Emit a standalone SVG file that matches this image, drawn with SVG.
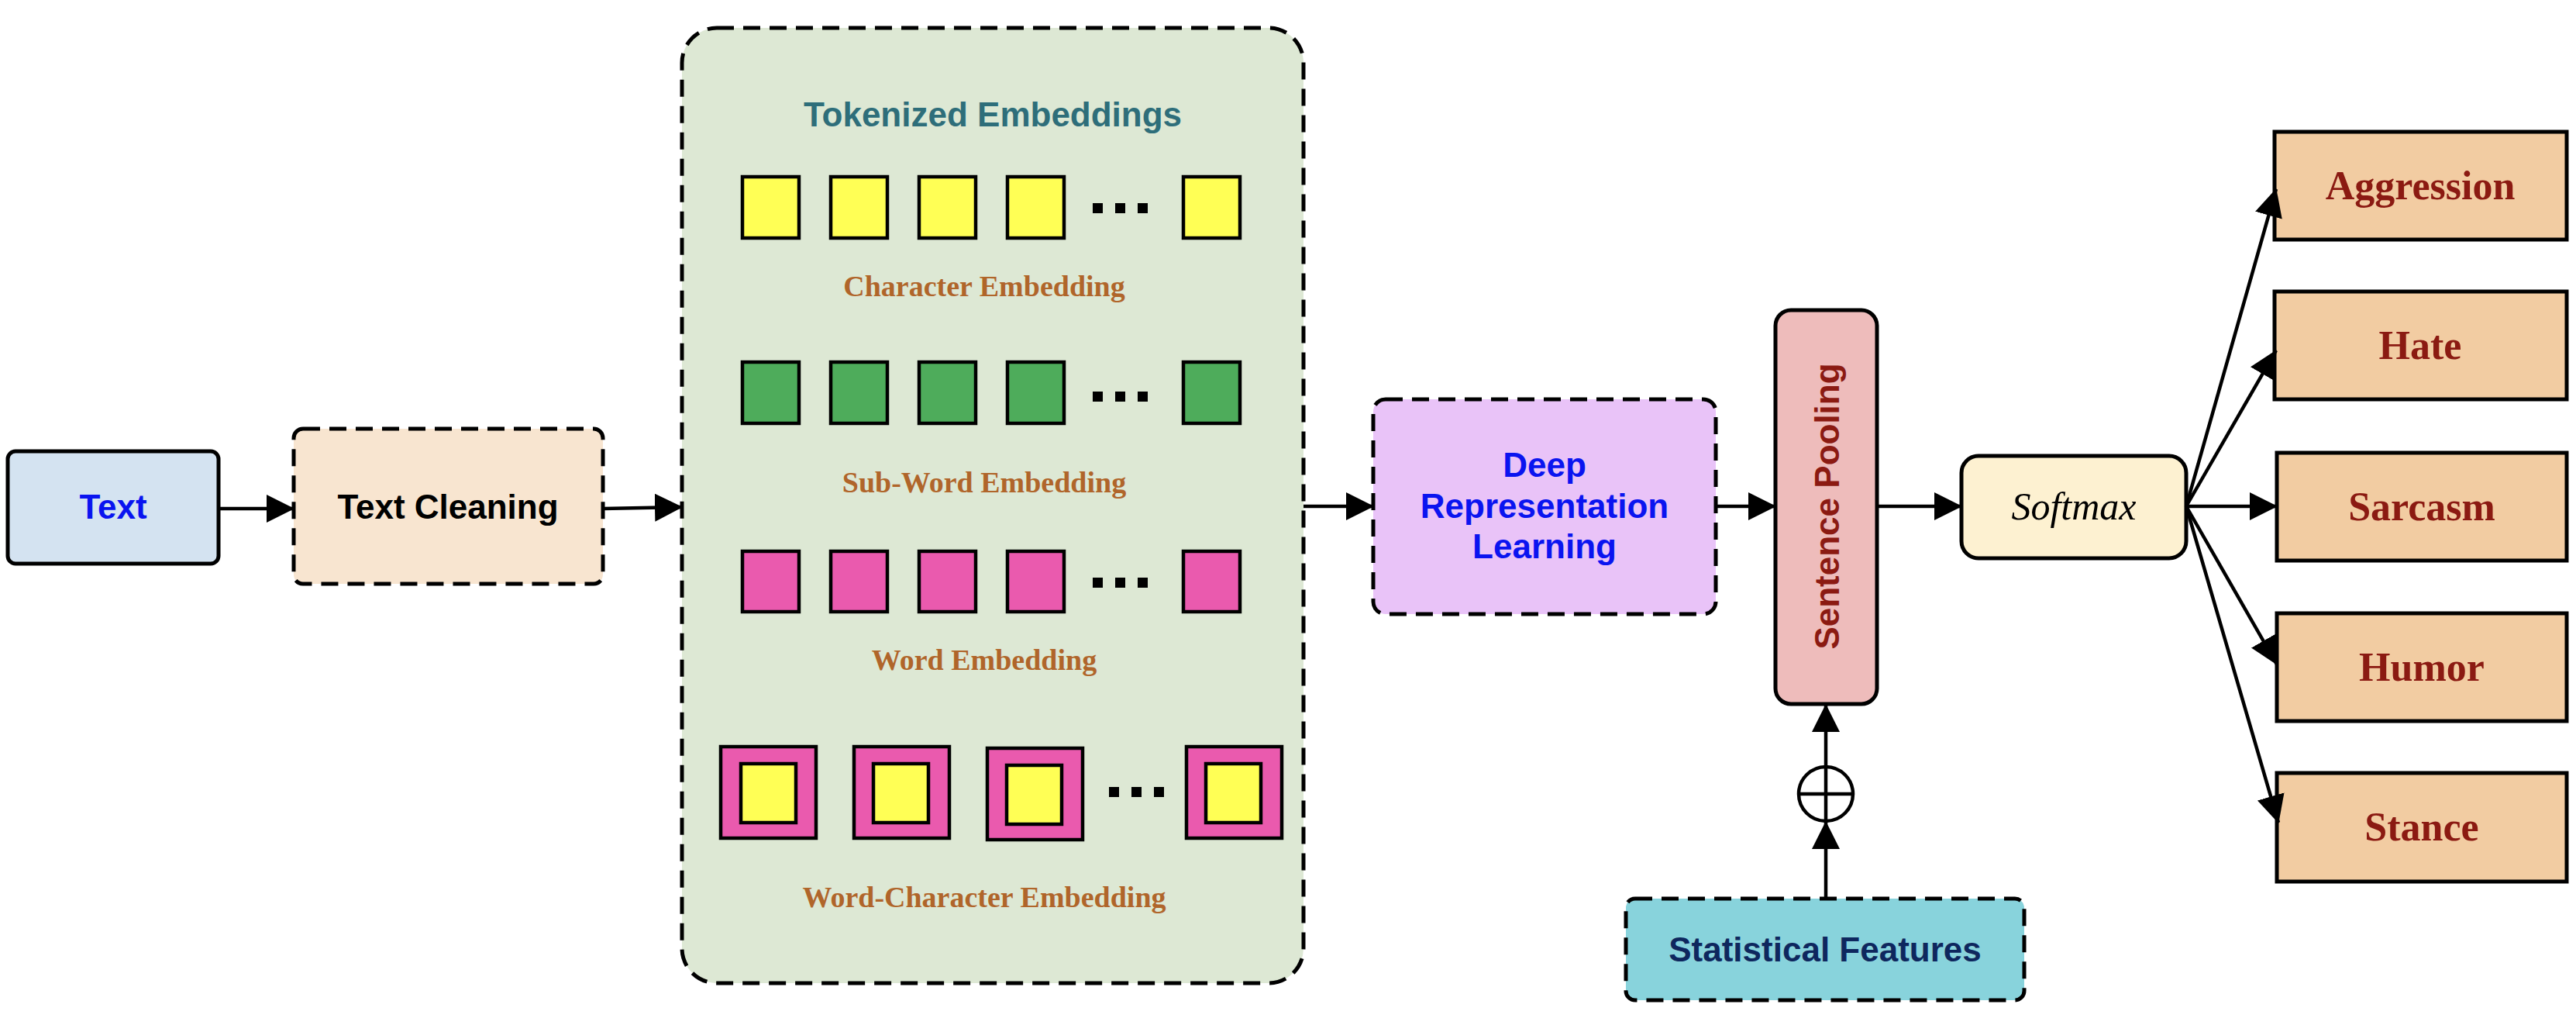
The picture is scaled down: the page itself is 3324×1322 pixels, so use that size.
<svg xmlns="http://www.w3.org/2000/svg" width="3324" height="1322" viewBox="0 0 3324 1322">
<defs>
<marker id="arr" markerUnits="userSpaceOnUse" markerWidth="36" markerHeight="36" refX="35" refY="18" orient="auto">
<path d="M0,0 L36,18 L0,36 Z" fill="#000"/>
</marker>
<style>
.solid{stroke:#000;stroke-width:5}
.dash{stroke:#000;stroke-width:5;stroke-dasharray:22 12}
.sans{font-family:"Liberation Sans",Arial,sans-serif;font-weight:bold;font-size:44px;text-anchor:middle}
.lbl{font-family:"Liberation Serif","Times New Roman",serif;font-weight:bold;font-size:38px;fill:#b0652a;text-anchor:middle}
.out{font-family:"Liberation Serif","Times New Roman",serif;font-weight:bold;font-size:52px;fill:#8b1a12;text-anchor:middle}
.sq{stroke:#000;stroke-width:4.5}
.y{fill:#ffff55}.g{fill:#4eac5b}.p{fill:#ea5aae}
.dot{fill:#000}
.conn{stroke:#000;stroke-width:4.5;fill:none}
.obox{fill:#f2cca2;stroke:#000;stroke-width:5}
</style>
</defs>
<rect width="3324" height="1322" fill="#fff"/>

<g id="text">
<rect x="10" y="582" width="272" height="145" rx="10" fill="#d4e3f1" class="solid"/>
<text x="146" y="669" class="sans" fill="#0a14f0">Text</text>
</g>

<g id="text-cleaning">
<rect x="379" y="553" width="399" height="200" rx="12" fill="#f8e5d0" class="dash"/>
<text x="578" y="669" class="sans" fill="#000">Text Cleaning</text>
</g>

<g id="tokenized-embeddings">
<rect x="880" y="36" width="802" height="1232" rx="45" fill="#dde8d4" class="dash"/>
<text x="1281" y="163" class="sans" fill="#2e6e7a">Tokenized Embeddings</text>
<g id="char-emb">
<rect x="958" y="228" width="73" height="79" class="sq y"/>
<rect x="1072" y="228" width="73" height="79" class="sq y"/>
<rect x="1186" y="228" width="73" height="79" class="sq y"/>
<rect x="1300" y="228" width="73" height="79" class="sq y"/>
<rect x="1527" y="228" width="73" height="79" class="sq y"/>
<rect x="1410" y="262" width="13" height="13" class="dot"/>
<rect x="1439" y="262" width="13" height="13" class="dot"/>
<rect x="1468" y="262" width="13" height="13" class="dot"/>
<text x="1270" y="382" class="lbl">Character Embedding</text>
</g>
<g id="subword-emb">
<rect x="958" y="467" width="73" height="79" class="sq g"/>
<rect x="1072" y="467" width="73" height="79" class="sq g"/>
<rect x="1186" y="467" width="73" height="79" class="sq g"/>
<rect x="1300" y="467" width="73" height="79" class="sq g"/>
<rect x="1527" y="467" width="73" height="79" class="sq g"/>
<rect x="1410" y="505" width="13" height="13" class="dot"/>
<rect x="1439" y="505" width="13" height="13" class="dot"/>
<rect x="1468" y="505" width="13" height="13" class="dot"/>
<text x="1270" y="635" class="lbl">Sub-Word Embedding</text>
</g>
<g id="word-emb">
<rect x="958" y="711" width="73" height="78" class="sq p"/>
<rect x="1072" y="711" width="73" height="78" class="sq p"/>
<rect x="1186" y="711" width="73" height="78" class="sq p"/>
<rect x="1300" y="711" width="73" height="78" class="sq p"/>
<rect x="1527" y="711" width="73" height="78" class="sq p"/>
<rect x="1410" y="745" width="13" height="13" class="dot"/>
<rect x="1439" y="745" width="13" height="13" class="dot"/>
<rect x="1468" y="745" width="13" height="13" class="dot"/>
<text x="1270" y="864" class="lbl">Word Embedding</text>
</g>
<g id="wordchar-emb">
<rect x="930" y="963" width="123" height="118" class="sq p"/>
<rect x="956" y="985" width="71" height="76" class="sq y"/>
<rect x="1102" y="963" width="123" height="118" class="sq p"/>
<rect x="1127" y="985" width="71" height="76" class="sq y"/>
<rect x="1274" y="965" width="123" height="118" class="sq p"/>
<rect x="1299" y="987" width="71" height="76" class="sq y"/>
<rect x="1531" y="963" width="123" height="118" class="sq p"/>
<rect x="1556" y="985" width="71" height="76" class="sq y"/>
<rect x="1431" y="1015" width="13" height="13" class="dot"/>
<rect x="1460" y="1015" width="13" height="13" class="dot"/>
<rect x="1489" y="1015" width="13" height="13" class="dot"/>
<text x="1270" y="1170" class="lbl">Word-Character Embedding</text>
</g>
</g>

<g id="deep-representation-learning">
<rect x="1772" y="515" width="442" height="277" rx="16" fill="#e9c3f8" class="dash"/>
<text x="1993" y="615" class="sans" fill="#0a14f0">Deep</text>
<text x="1993" y="668" class="sans" fill="#0a14f0">Representation</text>
<text x="1993" y="720" class="sans" fill="#0a14f0">Learning</text>
</g>

<g id="sentence-pooling">
<rect x="2291" y="400" width="131" height="508" rx="20" fill="#eebcbb" class="solid"/>
<text transform="translate(2357,653) rotate(-90)" x="0" y="16" class="sans" fill="#8b1a12">Sentence Pooling</text>
</g>

<g id="softmax">
<rect x="2531" y="588" width="290" height="132" rx="22" fill="#fdf1d1" class="solid"/>
<text x="2676" y="670" font-family="'Liberation Serif','Times New Roman',serif" font-style="italic" font-size="50" text-anchor="middle" fill="#000">Softmax</text>
</g>

<g id="statistical-features">
<rect x="2098" y="1159" width="514" height="131" rx="12" fill="#88d3dc" class="dash"/>
<text x="2355" y="1240" class="sans" fill="#0e275e">Statistical Features</text>
</g>

<g id="concat">
<circle cx="2356" cy="1024" r="35" fill="#fff" stroke="#000" stroke-width="4.5"/>
<line x1="2321" y1="1024" x2="2391" y2="1024" stroke="#000" stroke-width="4.5"/>
<line x1="2356" y1="989" x2="2356" y2="1059" stroke="#000" stroke-width="4.5"/>
</g>

<g id="aggression"><rect x="2935" y="170" width="377" height="139" class="obox"/><text x="3123" y="257" class="out">Aggression</text></g>
<g id="hate"><rect x="2935" y="376" width="377" height="139" class="obox"/><text x="3123" y="463" class="out">Hate</text></g>
<g id="sarcasm"><rect x="2938" y="584" width="374" height="139" class="obox"/><text x="3125" y="671" class="out">Sarcasm</text></g>
<g id="humor"><rect x="2938" y="791" width="374" height="139" class="obox"/><text x="3125" y="878" class="out">Humor</text></g>
<g id="stance"><rect x="2938" y="997" width="374" height="140" class="obox"/><text x="3125" y="1084" class="out">Stance</text></g>

<g id="connectors">
<path class="conn" d="M282,656 L379,656" marker-end="url(#arr)"/>
<path class="conn" d="M778,656 L880,654" marker-end="url(#arr)"/>
<path class="conn" d="M1682,653 L1772,653" marker-end="url(#arr)"/>
<path class="conn" d="M2214,653 L2291,653" marker-end="url(#arr)"/>
<path class="conn" d="M2422,653 L2531,653" marker-end="url(#arr)"/>
<path class="conn" d="M2821,653 L2937,244" marker-end="url(#arr)"/>
<path class="conn" d="M2821,653 L2937,452" marker-end="url(#arr)"/>
<path class="conn" d="M2821,653 L2938,653" marker-end="url(#arr)"/>
<path class="conn" d="M2821,653 L2938,857" marker-end="url(#arr)"/>
<path class="conn" d="M2821,653 L2940,1061" marker-end="url(#arr)"/>
<path class="conn" d="M2356,1159 L2356,1060" marker-end="url(#arr)"/>
<path class="conn" d="M2356,989 L2356,909" marker-end="url(#arr)"/>
</g>
</svg>
